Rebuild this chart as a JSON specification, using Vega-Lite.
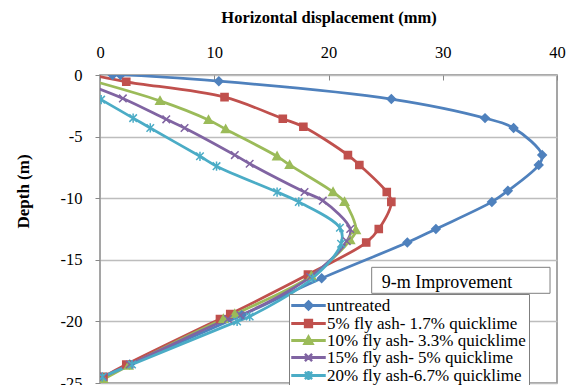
{
  "$schema": "https://vega.github.io/schema/vega-lite/v6.json",
  "width": 457,
  "height": 308,
  "autosize": {"type": "none"},
  "padding": {"left": 100, "top": 75, "right": 16, "bottom": 2},
  "background": "white",
  "config": {
    "view": {"stroke": "#888888", "strokeWidth": 1.5},
    "font": "Liberation Serif"
  },
  "datasets": {
    "curves": [
      {"series": "untreated", "i": 1, "disp": 1.1, "depth": 0},
      {"series": "untreated", "i": 2, "disp": 1.8, "depth": 0},
      {"series": "untreated", "i": 3, "disp": 10.4, "depth": -0.5},
      {"series": "untreated", "i": 4, "disp": 25.5, "depth": -1.95},
      {"series": "untreated", "i": 5, "disp": 33.7, "depth": -3.5},
      {"series": "untreated", "i": 6, "disp": 36.2, "depth": -4.3},
      {"series": "untreated", "i": 7, "disp": 38.7, "depth": -6.5},
      {"series": "untreated", "i": 8, "disp": 38.4, "depth": -7.3},
      {"series": "untreated", "i": 9, "disp": 35.7, "depth": -9.4},
      {"series": "untreated", "i": 10, "disp": 34.3, "depth": -10.3},
      {"series": "untreated", "i": 11, "disp": 29.4, "depth": -12.5},
      {"series": "untreated", "i": 12, "disp": 26.9, "depth": -13.6},
      {"series": "untreated", "i": 13, "disp": 19.4, "depth": -16.5},
      {"series": "untreated", "i": 14, "disp": 12.4, "depth": -19.5},
      {"series": "untreated", "i": 15, "disp": 2.6, "depth": -23.5},
      {"series": "untreated", "i": 16, "disp": 0.2, "depth": -24.6},

      {"series": "5% fly ash- 1.7% quicklime", "i": 1, "disp": -0.7, "depth": 0},
      {"series": "5% fly ash- 1.7% quicklime", "i": 2, "disp": 2.3, "depth": -0.55},
      {"series": "5% fly ash- 1.7% quicklime", "i": 3, "disp": 10.9, "depth": -1.8},
      {"series": "5% fly ash- 1.7% quicklime", "i": 4, "disp": 16.0, "depth": -3.55},
      {"series": "5% fly ash- 1.7% quicklime", "i": 5, "disp": 17.8, "depth": -4.2},
      {"series": "5% fly ash- 1.7% quicklime", "i": 6, "disp": 21.7, "depth": -6.5},
      {"series": "5% fly ash- 1.7% quicklime", "i": 7, "disp": 22.7, "depth": -7.3},
      {"series": "5% fly ash- 1.7% quicklime", "i": 8, "disp": 25.1, "depth": -9.5},
      {"series": "5% fly ash- 1.7% quicklime", "i": 9, "disp": 25.5, "depth": -10.3},
      {"series": "5% fly ash- 1.7% quicklime", "i": 10, "disp": 24.4, "depth": -12.5},
      {"series": "5% fly ash- 1.7% quicklime", "i": 11, "disp": 23.3, "depth": -13.6},
      {"series": "5% fly ash- 1.7% quicklime", "i": 12, "disp": 18.2, "depth": -16.2},
      {"series": "5% fly ash- 1.7% quicklime", "i": 13, "disp": 11.4, "depth": -19.4},
      {"series": "5% fly ash- 1.7% quicklime", "i": 14, "disp": 10.5, "depth": -19.8},
      {"series": "5% fly ash- 1.7% quicklime", "i": 15, "disp": 2.3, "depth": -23.5},
      {"series": "5% fly ash- 1.7% quicklime", "i": 16, "disp": 0.3, "depth": -24.5},

      {"series": "10% fly ash- 3.3% quicklime", "i": 1, "disp": -2.5, "depth": 0},
      {"series": "10% fly ash- 3.3% quicklime", "i": 2, "disp": 5.25, "depth": -2.1},
      {"series": "10% fly ash- 3.3% quicklime", "i": 3, "disp": 9.5, "depth": -3.65},
      {"series": "10% fly ash- 3.3% quicklime", "i": 4, "disp": 11.0, "depth": -4.4},
      {"series": "10% fly ash- 3.3% quicklime", "i": 5, "disp": 15.5, "depth": -6.6},
      {"series": "10% fly ash- 3.3% quicklime", "i": 6, "disp": 16.6, "depth": -7.3},
      {"series": "10% fly ash- 3.3% quicklime", "i": 7, "disp": 20.4, "depth": -9.5},
      {"series": "10% fly ash- 3.3% quicklime", "i": 8, "disp": 21.4, "depth": -10.3},
      {"series": "10% fly ash- 3.3% quicklime", "i": 9, "disp": 22.4, "depth": -12.6},
      {"series": "10% fly ash- 3.3% quicklime", "i": 10, "disp": 21.9, "depth": -13.4},
      {"series": "10% fly ash- 3.3% quicklime", "i": 11, "disp": 18.5, "depth": -16.3},
      {"series": "10% fly ash- 3.3% quicklime", "i": 12, "disp": 11.8, "depth": -19.4},
      {"series": "10% fly ash- 3.3% quicklime", "i": 13, "disp": 10.8, "depth": -19.8},
      {"series": "10% fly ash- 3.3% quicklime", "i": 14, "disp": 2.5, "depth": -23.6},
      {"series": "10% fly ash- 3.3% quicklime", "i": 15, "disp": 0.3, "depth": -24.7},

      {"series": "15% fly ash- 5% quicklime", "i": 1, "disp": -3.4, "depth": 0},
      {"series": "15% fly ash- 5% quicklime", "i": 2, "disp": 2.0, "depth": -1.9},
      {"series": "15% fly ash- 5% quicklime", "i": 3, "disp": 5.8, "depth": -3.6},
      {"series": "15% fly ash- 5% quicklime", "i": 4, "disp": 7.4, "depth": -4.3},
      {"series": "15% fly ash- 5% quicklime", "i": 5, "disp": 11.8, "depth": -6.5},
      {"series": "15% fly ash- 5% quicklime", "i": 6, "disp": 13.1, "depth": -7.2},
      {"series": "15% fly ash- 5% quicklime", "i": 7, "disp": 17.9, "depth": -9.5},
      {"series": "15% fly ash- 5% quicklime", "i": 8, "disp": 19.5, "depth": -10.2},
      {"series": "15% fly ash- 5% quicklime", "i": 9, "disp": 21.9, "depth": -12.5},
      {"series": "15% fly ash- 5% quicklime", "i": 10, "disp": 21.6, "depth": -13.5},
      {"series": "15% fly ash- 5% quicklime", "i": 11, "disp": 18.4, "depth": -16.4},
      {"series": "15% fly ash- 5% quicklime", "i": 12, "disp": 12.3, "depth": -19.5},
      {"series": "15% fly ash- 5% quicklime", "i": 13, "disp": 11.2, "depth": -19.8},
      {"series": "15% fly ash- 5% quicklime", "i": 14, "disp": 2.6, "depth": -23.5},
      {"series": "15% fly ash- 5% quicklime", "i": 15, "disp": 0.3, "depth": -24.5},

      {"series": "20% fly ash-6.7% quicklime", "i": 1, "disp": 0.1, "depth": -2.0},
      {"series": "20% fly ash-6.7% quicklime", "i": 2, "disp": 2.9, "depth": -3.5},
      {"series": "20% fly ash-6.7% quicklime", "i": 3, "disp": 4.4, "depth": -4.3},
      {"series": "20% fly ash-6.7% quicklime", "i": 4, "disp": 8.75, "depth": -6.6},
      {"series": "20% fly ash-6.7% quicklime", "i": 5, "disp": 10.2, "depth": -7.4},
      {"series": "20% fly ash-6.7% quicklime", "i": 6, "disp": 15.5, "depth": -9.5},
      {"series": "20% fly ash-6.7% quicklime", "i": 7, "disp": 17.4, "depth": -10.3},
      {"series": "20% fly ash-6.7% quicklime", "i": 8, "disp": 21.0, "depth": -12.4},
      {"series": "20% fly ash-6.7% quicklime", "i": 9, "disp": 21.1, "depth": -13.7},
      {"series": "20% fly ash-6.7% quicklime", "i": 10, "disp": 18.6, "depth": -16.5},
      {"series": "20% fly ash-6.7% quicklime", "i": 11, "disp": 13.1, "depth": -19.6},
      {"series": "20% fly ash-6.7% quicklime", "i": 12, "disp": 12.0, "depth": -20.0},
      {"series": "20% fly ash-6.7% quicklime", "i": 13, "disp": 2.8, "depth": -23.5},
      {"series": "20% fly ash-6.7% quicklime", "i": 14, "disp": 0.2, "depth": -24.5}
    ],
    "note": [
      {"disp": 23.78, "disp2": 39.39, "depth": -15.61, "depth2": -17.72, "tdisp": 24.66, "tdepth": -16.86, "label": "9-m Improvement"}
    ]
  },
  "layer": [
    {
      "data": {"name": "curves"},
      "mark": {"type": "line", "strokeWidth": 2.75, "interpolate": "catmull-rom", "clip": true},
      "encoding": {
        "x": {
          "field": "disp", "type": "quantitative",
          "scale": {"domain": [0, 40], "nice": false, "zero": false},
          "axis": {
            "orient": "top", "title": "Horizontal displacement (mm)",
            "values": [0, 10, 20, 30, 40], "grid": false, "domain": false,
            "tickSize": -5, "tickColor": "#888888", "tickWidth": 1,
            "labelPadding": 23, "labelBaseline": "alphabetic", "labelFlush": false,
            "labelFont": "Liberation Serif", "labelFontSize": 16.5, "labelColor": "black",
            "titleFont": "Liberation Serif", "titleFontSize": 16.5, "titleFontWeight": "bold",
            "titleColor": "black", "titleBaseline": "alphabetic", "titleY": -53
          }
        },
        "y": {
          "field": "depth", "type": "quantitative",
          "scale": {"domain": [-25, 0], "nice": false, "zero": false},
          "axis": {
            "title": "Depth (m)", "values": [-25, -20, -15, -10, -5, 0],
            "labelExpr": "'' + datum.value",
            "grid": true, "gridColor": "#bdbdbd", "gridWidth": 1.5, "domain": false,
            "tickSize": 5, "tickColor": "#888888", "tickWidth": 1,
            "labelPadding": 13, "labelFont": "Liberation Serif", "labelFontSize": 16.5,
            "labelColor": "black",
            "titleFont": "Liberation Serif", "titleFontSize": 17, "titleFontWeight": "bold",
            "titleColor": "black", "titleX": -77, "titleY": 116, "titleBaseline": "middle",
            "titleAlign": "center", "titleAngle": -90
          }
        },
        "color": {
          "field": "series", "type": "nominal",
          "scale": {
            "domain": ["untreated", "5% fly ash- 1.7% quicklime", "10% fly ash- 3.3% quicklime", "15% fly ash- 5% quicklime", "20% fly ash-6.7% quicklime"],
            "range": ["#4F81BD", "#C0504D", "#9BBB59", "#8064A2", "#4BACC6"]
          },
          "legend": {
            "title": null, "orient": "none", "legendX": 189, "legendY": 219,
            "direction": "vertical",
            "fillColor": "white", "strokeColor": "#7f7f7f", "padding": 3,
            "symbolSize": 64, "symbolOffset": 8, "labelOffset": 10,
            "rowPadding": -1,
            "labelFont": "Liberation Serif", "labelFontSize": 17, "labelColor": "black",
            "labelLimit": 400,
            "encode": {
              "symbols": {
                "update": {
                  "shape": {"signal": "datum.value == 'untreated' ? 'M-4,-0.05L4,-0.05L4,0.05L-4,0.05ZM0,-1L1,0L0,1L-1,0Z' : datum.value == '5% fly ash- 1.7% quicklime' ? 'M-4,-0.05L4,-0.05L4,0.05L-4,0.05ZM-0.85,-0.85L0.85,-0.85L0.85,0.85L-0.85,0.85Z' : datum.value == '10% fly ash- 3.3% quicklime' ? 'M-4,-0.05L4,-0.05L4,0.05L-4,0.05ZM0,-1L1,0.8L-1,0.8Z' : datum.value == '15% fly ash- 5% quicklime' ? 'M-4,-0.05L4,-0.05L4,0.05L-4,0.05ZM-0.9,-0.9L0.9,0.9M-0.9,0.9L0.9,-0.9' : 'M-4,-0.05L4,-0.05L4,0.05L-4,0.05ZM-0.9,-0.9L0.9,0.9M-0.9,0.9L0.9,-0.9M0,-1.1L0,1.1'"},
                  "fill": {"scale": "color", "field": "value"},
                  "stroke": {"scale": "color", "field": "value"},
                  "strokeWidth": {"value": 2.5},
                  "opacity": {"value": 1},
                  "size": {"value": 64}
                }
              }
            }
          }
        },
        "order": {"field": "i", "type": "quantitative"}
      }
    },
    {
      "data": {"name": "curves"},
      "transform": [{"filter": "datum.series == 'untreated'"}],
      "mark": {"type": "point", "shape": "M0,-1L1,0L0,1L-1,0Z", "filled": true, "fill": "#4F81BD", "stroke": "#4F81BD", "size": 70, "strokeWidth": 1.5, "opacity": 1, "clip": true},
      "encoding": {
        "x": {"field": "disp", "type": "quantitative", "title": "Horizontal displacement (mm)"},
        "y": {"field": "depth", "type": "quantitative", "title": "Depth (m)"}
      }
    },
    {
      "data": {"name": "curves"},
      "transform": [{"filter": "datum.series == '5% fly ash- 1.7% quicklime'"}],
      "mark": {"type": "point", "shape": "M-0.85,-0.85L0.85,-0.85L0.85,0.85L-0.85,0.85Z", "filled": true, "fill": "#C0504D", "stroke": "#C0504D", "size": 70, "strokeWidth": 1.5, "opacity": 1, "clip": true},
      "encoding": {
        "x": {"field": "disp", "type": "quantitative", "title": "Horizontal displacement (mm)"},
        "y": {"field": "depth", "type": "quantitative", "title": "Depth (m)"}
      }
    },
    {
      "data": {"name": "curves"},
      "transform": [{"filter": "datum.series == '10% fly ash- 3.3% quicklime'"}],
      "mark": {"type": "point", "shape": "M0,-1L1,0.8L-1,0.8Z", "filled": true, "fill": "#9BBB59", "stroke": "#9BBB59", "size": 70, "strokeWidth": 1.5, "opacity": 1, "clip": true},
      "encoding": {
        "x": {"field": "disp", "type": "quantitative", "title": "Horizontal displacement (mm)"},
        "y": {"field": "depth", "type": "quantitative", "title": "Depth (m)"}
      }
    },
    {
      "data": {"name": "curves"},
      "transform": [{"filter": "datum.series == '15% fly ash- 5% quicklime'"}],
      "mark": {"type": "point", "shape": "M-0.9,-0.9L0.9,0.9M-0.9,0.9L0.9,-0.9", "filled": true, "fill": "#8064A2", "stroke": "#8064A2", "size": 70, "strokeWidth": 1.5, "opacity": 1, "clip": true},
      "encoding": {
        "x": {"field": "disp", "type": "quantitative", "title": "Horizontal displacement (mm)"},
        "y": {"field": "depth", "type": "quantitative", "title": "Depth (m)"}
      }
    },
    {
      "data": {"name": "curves"},
      "transform": [{"filter": "datum.series == '20% fly ash-6.7% quicklime'"}],
      "mark": {"type": "point", "shape": "M-0.9,-0.9L0.9,0.9M-0.9,0.9L0.9,-0.9M0,-1.1L0,1.1", "filled": true, "fill": "#4BACC6", "stroke": "#4BACC6", "size": 70, "strokeWidth": 1.5, "opacity": 1, "clip": true},
      "encoding": {
        "x": {"field": "disp", "type": "quantitative", "title": "Horizontal displacement (mm)"},
        "y": {"field": "depth", "type": "quantitative", "title": "Depth (m)"}
      }
    },
    {
      "data": {"name": "note"},
      "mark": {"type": "rect", "fill": "white", "stroke": "#7f7f7f", "strokeWidth": 1},
      "encoding": {
        "x": {"field": "disp", "type": "quantitative", "title": "Horizontal displacement (mm)"},
        "x2": {"field": "disp2"},
        "y": {"field": "depth", "type": "quantitative", "title": "Depth (m)"},
        "y2": {"field": "depth2"}
      }
    },
    {
      "data": {"name": "note"},
      "mark": {"type": "text", "align": "left", "baseline": "middle", "font": "Liberation Serif", "fontSize": 18, "color": "black"},
      "encoding": {
        "x": {"field": "tdisp", "type": "quantitative", "title": "Horizontal displacement (mm)"},
        "y": {"field": "tdepth", "type": "quantitative", "title": "Depth (m)"},
        "text": {"field": "label"}
      }
    }
  ]
}
